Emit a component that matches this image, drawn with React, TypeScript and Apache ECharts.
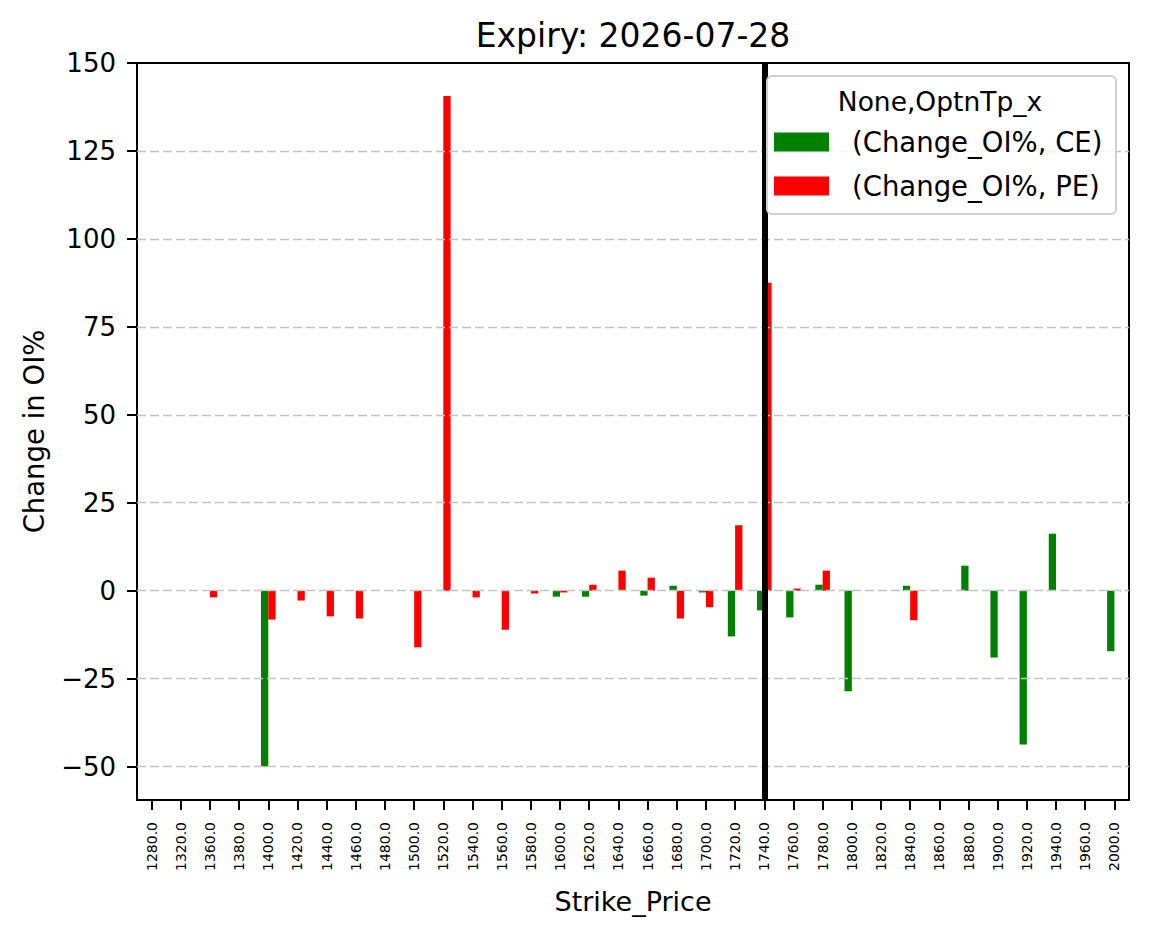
import React, { useEffect, useRef } from "react";
import * as echarts from "echarts";

const categories = [
  "1280.0", "1320.0", "1360.0", "1380.0", "1400.0", "1420.0", "1440.0", "1460.0", "1480.0",
  "1500.0", "1520.0", "1540.0", "1560.0", "1580.0", "1600.0", "1620.0", "1640.0", "1660.0",
  "1680.0", "1700.0", "1720.0", "1740.0", "1760.0", "1780.0", "1800.0", "1820.0", "1840.0",
  "1860.0", "1880.0", "1900.0", "1920.0", "1940.0", "1960.0", "2000.0",
];

const ceValues = [
  0, 0, 0, 0, -50, 0, 0, 0, 0,
  0, 0, 0, 0, 0, -1.7, -1.7, 0, -1.4,
  1.4, -0.5, -13.0, -5.6, -7.6, 1.7, -28.6, 0, 1.4,
  0, 7.1, -19.0, -43.7, 16.2, 0, -17.2,
];

const peValues = [
  0, 0, -1.9, 0, -8.2, -2.8, -7.3, -7.9, 0,
  -16.1, 140.6, -1.9, -11.1, -0.8, -0.5, 1.7, 5.7, 3.7,
  -7.9, -4.7, 18.6, 87.5, 0.6, 5.7, 0, 0, -8.4,
  0, 0, 0, 0, 0, 0, 0,
];

const yTicks = [-50, -25, 0, 25, 50, 75, 100, 125, 150];
const gridValues = [-50, -25, 0, 25, 50, 75, 100, 125];
const currentStrike = "1740.0";

const seriesNames = ["(Change_OI%, CE)", "(Change_OI%, PE)"];
const legendTitle = "None,OptnTp_x";
const titleText = "Expiry: 2026-07-28";

const FONT = "DejaVu Sans";

export default function App() {
  const ref = useRef<HTMLDivElement>(null);

  useEffect(() => {
    document.body.style.margin = "0";
    const chart = echarts.init(ref.current!, null, { renderer: "svg" });
    chart.setOption({
      animation: false,
      backgroundColor: "#fff",
      textStyle: { fontFamily: FONT, color: "#000" },
      grid: {
        left: 137,
        right: 20,
        top: 63,
        bottom: 139,
        show: true,
        borderColor: "#000",
        borderWidth: 2,
        containLabel: false,
      },
      legend: {
        data: seriesNames,
        orient: "vertical",
        left: 774,
        top: 128,
        itemWidth: 55,
        itemHeight: 19,
        itemGap: 16,
        padding: 0,
        icon: "rect",
        textStyle: {
          fontFamily: FONT,
          fontSize: 27.5,
          lineHeight: 27,
          color: "#000",
          padding: [0, 0, 0, 18],
        },
        z: 10,
      },
      graphic: [
        {
          type: "text",
          x: 633,
          y: 35,
          style: {
            text: titleText,
            fontFamily: FONT,
            fontSize: 33,
            fill: "#000",
            textAlign: "center",
            textVerticalAlign: "middle",
          },
          z: 9,
        },
        {
          type: "rect",
          shape: { x: 767, y: 76, width: 349, height: 138, r: 5 },
          style: { fill: "rgba(255,255,255,0.85)", stroke: "#d0d0d0", lineWidth: 2 },
          z: 8,
        },
        {
          type: "text",
          x: 940,
          y: 101,
          style: {
            text: legendTitle,
            fontFamily: FONT,
            fontSize: 26.5,
            fill: "#000",
            textAlign: "center",
            textVerticalAlign: "middle",
          },
          z: 9,
        },
      ],
      xAxis: {
        type: "category",
        data: categories,
        name: "Strike_Price",
        nameLocation: "middle",
        nameGap: 88,
        nameTextStyle: { fontFamily: FONT, fontSize: 27, color: "#000" },
        axisLine: { show: true, onZero: false, lineStyle: { color: "#000", width: 2 } },
        axisTick: { show: true, alignWithLabel: true, length: 10, lineStyle: { color: "#000", width: 2 } },
        axisLabel: {
          rotate: 90,
          interval: 0,
          fontFamily: FONT,
          fontSize: 14,
          color: "#000",
          margin: 22,
        },
        splitLine: { show: false },
      },
      yAxis: {
        type: "value",
        min: -59.5,
        max: 150,
        name: "Change in OI%",
        nameLocation: "middle",
        nameGap: 89,
        nameTextStyle: { fontFamily: FONT, fontSize: 27.5, color: "#000" },
        axisLine: { show: true, lineStyle: { color: "#000", width: 2 } },
        axisTick: { show: true, length: 10, customValues: yTicks, lineStyle: { color: "#000", width: 2 } },
        axisLabel: {
          customValues: yTicks,
          fontFamily: FONT,
          fontSize: 26,
          color: "#000",
          margin: 21,
          formatter: (v: number) => (v < 0 ? "\u2212" + Math.abs(v) : String(v)),
        },
        splitLine: { show: false },
      },
      series: [
        {
          name: "grid",
          type: "line",
          data: [],
          z: 1,
          silent: true,
          markLine: {
            silent: true,
            symbol: "none",
            label: { show: false },
            lineStyle: { color: "#c4c4c4", width: 1.4, type: [9, 4] },
            data: gridValues.map((v) => ({ yAxis: v })),
          },
        },
        {
          name: seriesNames[0],
          type: "bar",
          data: ceValues,
          barWidth: "25%",
          barGap: "0%",
          itemStyle: { color: "#008000" },
          z: 2,
        },
        {
          name: seriesNames[1],
          type: "bar",
          data: peValues,
          barWidth: "25%",
          barGap: "0%",
          itemStyle: { color: "#ff0000" },
          z: 3,
        },
        {
          name: "current",
          type: "line",
          data: [],
          z: 5,
          silent: true,
          markLine: {
            silent: true,
            symbol: "none",
            label: { show: false },
            lineStyle: { color: "#000", width: 6, type: "solid" },
            data: [{ xAxis: currentStrike }],
          },
        },
      ],
    });
    return () => chart.dispose();
  }, []);

  return <div ref={ref} style={{ width: 1149, height: 939 }} />;
}
